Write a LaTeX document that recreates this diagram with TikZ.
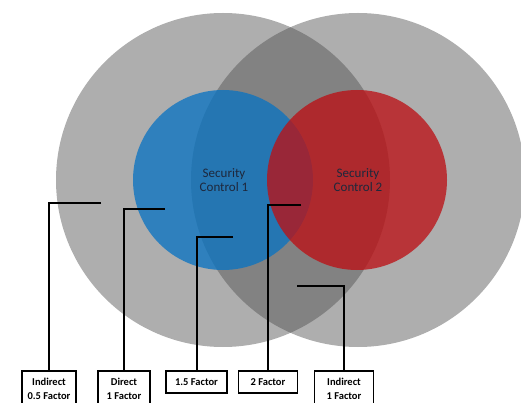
\documentclass[tikz,border=0pt]{standalone}
\usepackage{fontspec}
\setmainfont{Carlito}
\definecolor{ringgray}{RGB}{78,78,78}
\definecolor{ctrlblue}{RGB}{9,115,194}
\definecolor{ctrlred}{RGB}{188,16,20}
\definecolor{labelnavy}{RGB}{30,40,60}
\tikzset{
  ring/.style={fill=ringgray, fill opacity=0.46},
  control/.style={fill opacity=0.77},
  ctrltext/.style={align=center, text=labelnavy, font=\fontsize{13}{14.5}\selectfont},
  factorbox/.style={draw=black, line width=1.7pt, fill=white, anchor=north, align=center,
    inner ysep=3.5pt, font=\bfseries\fontsize{10.5}{14}\selectfont},
  tallbox/.style={factorbox, inner ysep=7.5pt},
  leader/.style={draw=black, line width=2pt}
}
\begin{document}
\begin{tikzpicture}[x=1pt,y=-1pt]
  \useasboundingbox (0,0) rectangle (521,403);

  % outer influence rings
  \fill[ring] (223,180) circle [radius=167pt];
  \fill[ring] (358,180) circle [radius=167pt];

  % security controls
  \fill[control, ctrlblue] (223,180) circle [radius=90pt];
  \fill[control, ctrlred]  (357,180) circle [radius=90pt];

  \node[ctrltext] (sc1) at (224,180) {Security\\Control 1};
  \node[ctrltext] (sc2) at (358,180) {Security\\Control 2};

  % factor boxes
  \node[tallbox, minimum width=54pt] (ind05) at (49,370)  {Indirect\\0.5 Factor};
  \node[tallbox, minimum width=52pt] (dir1)  at (124,370) {Direct\\1 Factor};
  \node[factorbox, minimum width=61pt, minimum height=22pt] (f15) at (196.5,370) {1.5 Factor};
  \node[factorbox, minimum width=59pt, minimum height=22pt] (f2)  at (268,370) {2 Factor};
  \node[tallbox, minimum width=59pt] (ind1)  at (344,370) {Indirect\\1 Factor};

  % leader ends
  \coordinate (p05) at (101,203);
  \coordinate (p1)  at (165,209);
  \coordinate (p15) at (233,237);
  \coordinate (p2)  at (301,205);
  \coordinate (pi1) at (297,286);

  \draw[leader] (p05) -| (ind05.north);
  \draw[leader] (p1)  -| (dir1.north);
  \draw[leader] (p15) -| (f15.north);
  \draw[leader] (p2)  -| (f2.north);
  \draw[leader] (pi1) -| (ind1.north);
\end{tikzpicture}
\end{document}
